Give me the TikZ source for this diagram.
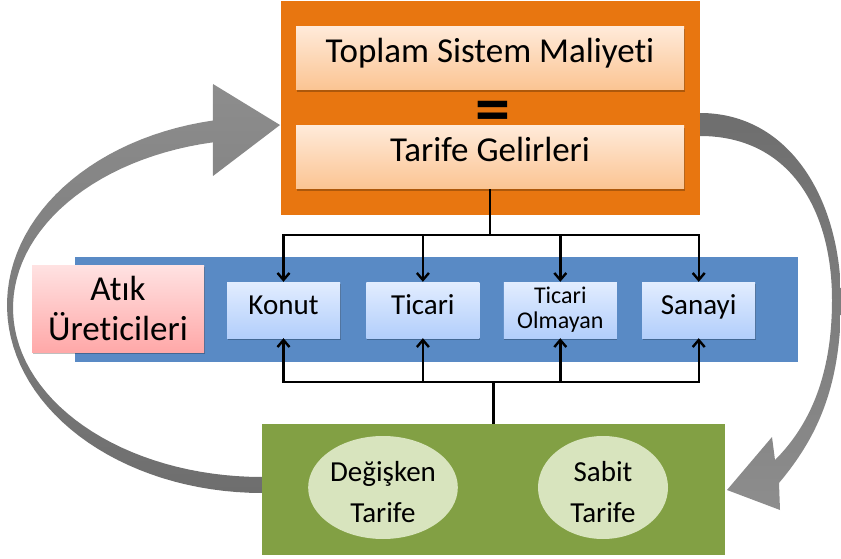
\documentclass[tikz,border=0pt]{standalone}
\usepackage{fontspec}
\setmainfont{Carlito}[Ligatures=NoCommon]
\usetikzlibrary{arrows.meta,positioning,shapes.geometric,shadows}

\definecolor{costorange}{RGB}{232,118,16}
\definecolor{peachtop}{RGB}{255,234,217}
\definecolor{peachbot}{RGB}{251,196,146}
\definecolor{producerblue}{RGB}{89,138,197}
\definecolor{sectortop}{RGB}{226,237,255}
\definecolor{sectorbot}{RGB}{178,206,251}
\definecolor{pinktop}{RGB}{255,226,226}
\definecolor{pinkbot}{RGB}{255,168,168}
\definecolor{tariffgreen}{RGB}{130,160,68}
\definecolor{tariffoval}{RGB}{216,228,190}
\definecolor{loopgray}{RGB}{141,141,141}
\definecolor{loopdark}{RGB}{110,110,110}

\begin{document}
\begin{tikzpicture}[x=1pt,y=-1pt,>={Straight Barb[length=7pt,width=12pt]},
  every node/.style={inner sep=0pt,align=center},
  softshadow/.style={drop shadow={shadow xshift=.6pt,shadow yshift=-1.8pt,opacity=.25,fill=black}},
  costbox/.style={rectangle,softshadow,top color=peachtop,bottom color=peachbot,
    minimum width=388pt,minimum height=63pt,text height=21pt,text depth=12pt,
    font=\fontsize{35}{41}\selectfont},
  sector/.style={rectangle,softshadow,top color=sectortop,bottom color=sectorbot,
    minimum width=113pt,minimum height=56pt,text height=18pt,text depth=10pt,
    font=\fontsize{29}{32}\selectfont},
  tariff/.style={ellipse,fill=tariffoval,minimum width=130pt,minimum height=103pt,
    text height=71pt,font=\fontsize{29}{41}\selectfont},
  link/.style={line width=2.4pt}]
\useasboundingbox (0,0) rectangle (841,559);

% curved loop arrows behind the boxes
\shade[top color=loopgray,bottom color=loopdark]
  plot[domain=90:258.9,samples=60] ({262+255*cos(\x)},{305+188*sin(\x)})
  -- (213,84) -- (280,125) -- (213,176)
  -- plot[domain=258.6:90,samples=60] ({262+249*cos(\x)},{308+169*sin(\x)}) -- cycle;
\shade[top color=loopdark,bottom color=loopgray]
  (700,113) .. controls (790,113) and (841,200) .. (841,300)
  .. controls (841,390) and (815,440) .. (779,483)
  -- (780,510) -- (727,490) -- (772,437) -- (775,460)
  .. controls (810,425) and (832,375) .. (832,300)
  .. controls (832,210) and (790,136) .. (700,136) -- cycle;

% cost block
\node[fill=costorange,minimum width=419pt,minimum height=214pt] (cost) at (490.5,108) {};
\node[costbox] (total) at (490,58.5) {Toplam Sistem Maliyeti};
\node[font=\fontsize{70}{70}\selectfont\bfseries] (equal) at (493,117) {=};
\node[costbox] (revenue) at (490,157.5) {Tarife Gelirleri};

% producers
\node[fill=producerblue,minimum width=723pt,minimum height=105pt] (producers) at (436.5,309.5) {};
\node[rectangle,softshadow,top color=pinktop,bottom color=pinkbot,minimum width=172pt,
  minimum height=87pt,font=\fontsize{35}{40}\selectfont] (atik) at (118,308.5) {Atık\\Üreticileri};
\node[sector] (konut) at (283.5,310) {Konut};
\node[sector,right=26pt of konut] (ticari) {Ticari};
\node[sector,right=24pt of ticari,text height=42pt,text depth=5pt,
  font=\fontsize{24}{25}\selectfont] (olmayan) {Ticari\\Olmayan};
\node[sector,right=25pt of olmayan] (sanayi) {Sanayi};

% tariffs
\node[fill=tariffgreen,minimum width=463pt,minimum height=131pt] (tariffs) at (493.5,489.5) {};
\node[tariff] (degisken) at (383,487.5) {Değişken\\Tarife};
\node[tariff] (sabit) at (603,487.5) {Sabit\\Tarife};

% distribution lines
\draw[link] (revenue.south) -- ++(0,46) coordinate (split);
\draw[link] (tariffs.north) -- ++(0,-42) coordinate (merge);
\foreach \n in {konut,ticari,olmayan,sanayi}{
  \draw[link,->] (split) -| (\n.north);
  \draw[link,->] (merge) -| (\n.south);
}
\end{tikzpicture}
\end{document}
